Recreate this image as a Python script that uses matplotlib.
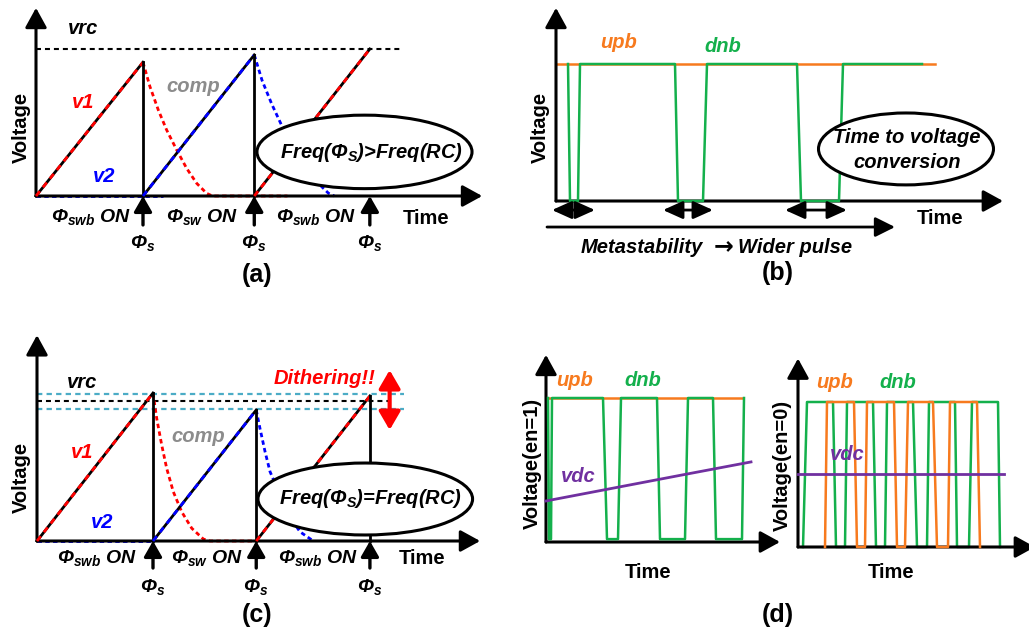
import matplotlib.pyplot as plt
from matplotlib.patches import Ellipse

plt.rcParams['font.family'] = ['Liberation Sans', 'DejaVu Sans']
plt.rcParams['mathtext.fontset'] = 'custom'
plt.rcParams['mathtext.rm'] = 'Liberation Sans:italic:bold'
plt.rcParams['mathtext.it'] = 'Liberation Sans:italic:bold'
plt.rcParams['mathtext.bf'] = 'Liberation Sans:italic:bold'

RED = '#ff0000'
BLUE = '#0000ff'
GRAY = '#8c8c8c'
ORANGE = '#f77a1e'
GREEN = '#14b04c'
PURPLE = '#7030a0'
CYAN = '#4bacc6'

# ---- (a) Freq(phi_s) > Freq(RC) ----
phi_s_a = [1.0, 2.04, 3.12]
peak_a = [0.91, 0.96, 1.0]
vrc_a = 1.0
vrc_end_a = 3.43
v1_decay_t_a = [1.0, 1.065, 1.143, 1.221, 1.315, 1.408, 1.502, 1.595, 1.65, 2.35]
v1_decay_v_a = [0.91, 0.744, 0.585, 0.449, 0.313, 0.188, 0.086, 0.018, 0.0, 0.0]
v2_decay_t_a = [2.04, 2.113, 2.204, 2.296, 2.404, 2.515, 2.624, 2.733, 2.788]
v2_decay_v_a = [0.96, 0.786, 0.624, 0.48, 0.336, 0.201, 0.096, 0.019, 0.0]
v2_base_a = [0.0, 1.19]

# ---- (b) metastability ----
upb_t_b = [0.0, 3.79]
upb_v_b = [1, 1]
dnb_t_b = [0.12, 0.14, 0.22, 0.24, 1.19, 1.22, 1.47, 1.51, 2.41, 2.45, 2.83, 2.87, 3.66]
dnb_v_b = [1, 0, 0, 1, 1, 0, 0, 1, 1, 0, 0, 1, 1]
pulse_spans_b = [(-0.04, 0.39), (1.07, 1.57), (2.29, 2.91)]

# ---- (c) Freq(phi_s) = Freq(RC) ----
phi_s_c = [1.0, 1.89, 2.87]
peak_c = [1.057, 0.936, 1.036]
vrc_c = 1.0
vrc_end_c = 3.03
dither_c = [1.048, 0.943]
dither_end_c = 3.16
v1_decay_t_c = [1.0, 1.032, 1.075, 1.118, 1.175, 1.247, 1.334, 1.434, 1.491, 1.879]
v1_decay_v_c = [1.057, 0.876, 0.686, 0.519, 0.352, 0.209, 0.091, 0.014, 0.0, 0.0]
v2_decay_t_c = [1.89, 1.922, 1.966, 2.009, 2.095, 2.198, 2.267, 2.382]
v2_decay_v_c = [0.936, 0.805, 0.638, 0.495, 0.33, 0.15, 0.066, 0.0]
v2_base_c = [0.0, 1.0]

# ---- (d) en=1 / en=0 ----
upb_t_d1 = [0.0, 1.97]
upb_v_d1 = [1, 1]
dnb_t_d1 = [0.02, 0.03, 0.05, 0.06, 0.57, 0.61, 0.72, 0.75, 1.11, 1.14, 1.39, 1.42,
            1.67, 1.70, 1.96, 1.98]
dnb_v_d1 = [1, 0.02, 0.02, 1, 1, 0.02, 0.02, 1, 1, 0.02, 0.02, 1, 1, 0.02, 0.02, 1]
vdc_t_d1 = [0.0, 1.41, 2.05]
vdc_v_d1 = [0.285, 0.472, 0.556]

dnb_t_d0 = [0.05, 0.09, 0.35, 0.38, 0.47, 0.49, 0.75, 0.78, 0.87, 0.89, 1.15, 1.19,
            1.29, 1.31, 1.57, 1.59, 1.71, 1.74, 2.00, 2.02]
dnb_v_d0 = [0, 1, 1, 0, 0, 1, 1, 0, 0, 1, 1, 0, 0, 1, 1, 0, 0, 1, 1, 0]
upb_t_d0 = [0.27, 0.29, 0.56, 0.59, 0.67, 0.69, 0.96, 0.99, 1.07, 1.10, 1.35, 1.39,
            1.50, 1.52, 1.79, 1.82]
upb_v_d0 = [0, 1, 1, 0, 0, 1, 1, 0, 0, 1, 1, 0, 0, 1, 1, 0]
vdc_t_d0 = [0.0, 2.06]
vdc_v_d0 = [0.503, 0.503]

W, H = 1029, 633
FS = 14.5
fig = plt.figure(figsize=(W / 100, H / 100), dpi=100)


def panel(x0, y0, xs, ys):
    ax = fig.add_axes([0, 0, 1, 1])
    ax.set_xlim(-x0 / xs, (W - x0) / xs)
    ax.set_ylim((y0 - H) / ys, y0 / ys)
    ax.axis('off')
    ax.patch.set_alpha(0)
    return ax


def arrow(ax, p0, p1, style='-|>', color='k', lw=2.2, hl=0.6, hw=0.33):
    ax.annotate('', xy=p1, xytext=p0, annotation_clip=False,
                arrowprops=dict(arrowstyle=f'{style},head_length={hl},head_width={hw}',
                                color=color, lw=lw, shrinkA=0, shrinkB=0,
                                mutation_scale=20))


def txt(x, y, s, size=FS, color='k', style='italic', rot=0, **kw):
    fig.text(x / W, 1 - y / H, s, ha='center', va='center', fontsize=size,
             color=color, style=style, weight='bold', rotation=rot, **kw)


def ramps(ax, ts, peaks, colors, last_vertical):
    starts = [0] + ts[:-1]
    for i, (t0, t1, p, c) in enumerate(zip(starts, ts, peaks, colors)):
        ax.plot([t0, t1], [0, p], color='k', lw=2, zorder=3)
        ax.plot([t0, t1], [0, p], color=c, lw=2, ls=(0, (2.2, 1.8)), zorder=3)
        if i < len(ts) - 1 or last_vertical:
            ax.plot([t1, t1], [p, 0], color='k', lw=2, zorder=3)


def dotted(ax, t, v, c):
    ax.plot(t, v, color=c, lw=2, ls=(0, (1.6, 1.2)), zorder=2)


# ===== panel (a) =====
ax = panel(36, 196, 107, 147)
arrow(ax, (0, 0), (0, 1.28))
arrow(ax, (0, 0), (4.17, 0))
ax.plot([0, vrc_end_a], [vrc_a, vrc_a], color='k', lw=1.5, ls=(0, (2.4, 1.9)))
dotted(ax, v2_base_a, [0, 0], BLUE)
dotted(ax, v1_decay_t_a, v1_decay_v_a, RED)
dotted(ax, v2_decay_t_a, v2_decay_v_a, BLUE)
ramps(ax, phi_s_a, peak_a, [RED, BLUE, RED], False)
for t in phi_s_a:
    arrow(ax, (t, -0.197), (t, 0), lw=2.4, hl=0.47, hw=0.27)
ax.add_patch(Ellipse((3.07, 0.30), 2.01, 0.50, fc='white', ec='k', lw=2.2, zorder=5))
txt(83, 29, 'vrc')
txt(83, 102, 'v1', color=RED)
txt(104, 177, 'v2', color=BLUE)
txt(193, 87, 'comp', color=GRAY)
txt(21, 127, 'Voltage', style='normal', rot=90)
txt(91, 217, r'$Φ_{swb}$ ON', size=14)
txt(202, 217, r'$Φ_{sw}$ ON', size=14)
txt(316, 217, r'$Φ_{swb}$ ON', size=14)
txt(426, 218, 'Time', style='normal')
for x in (143, 254, 370):
    txt(x, 243, r'$Φ_s$', size=14)
txt(257, 275, '(a)', size=18, style='normal')
txt(371, 152, r'Freq($Φ_S$)>Freq(RC)')

# ===== panel (b) =====
ax = panel(556, 201, 100, 137)
arrow(ax, (0, 0), (0, 1.41))
arrow(ax, (0, 0), (4.47, 0))
ax.plot(upb_t_b, upb_v_b, color=ORANGE, lw=1.8, zorder=2)
ax.plot(dnb_t_b, dnb_v_b, color=GREEN, lw=1.8, zorder=3)
for a, b in pulse_spans_b:
    arrow(ax, (a, -0.066), (b, -0.066), style='<|-|>', lw=2, hl=0.6, hw=0.27)
arrow(ax, (-0.09, -0.19), (3.39, -0.19), lw=2, hl=0.6, hw=0.3)
ax.add_patch(Ellipse((3.5, 0.38), 1.75, 0.525, fc='white', ec='k', lw=2.2, zorder=5))
txt(619, 43, 'upb', color=ORANGE)
txt(723, 47, 'dnb', color=GREEN)
txt(540, 127, 'Voltage', style='normal', rot=90)
txt(940, 218, 'Time', style='normal')
txt(642, 247, 'Metastability')
txt(724, 246, '→', family='DejaVu Sans', size=17, style='normal')
txt(795, 247, 'Wider pulse')
txt(778, 273, '(b)', size=18, style='normal')
txt(907, 150, 'Time to voltage\nconversion', linespacing=1.45)

# ===== panel (c) =====
ax = panel(37, 541, 116, 140)
arrow(ax, (0, 0), (0, 1.47))
arrow(ax, (0, 0), (3.82, 0))
for v in dither_c:
    ax.plot([0, dither_end_c], [v, v], color=CYAN, lw=1.6, ls=(0, (2.4, 1.9)))
ax.plot([0, vrc_end_c], [vrc_c, vrc_c], color='k', lw=1.5, ls=(0, (2.4, 1.9)))
dotted(ax, v2_base_c, [0, 0], BLUE)
dotted(ax, v1_decay_t_c, v1_decay_v_c, RED)
dotted(ax, v2_decay_t_c, v2_decay_v_c, BLUE)
ramps(ax, phi_s_c, peak_c, [RED, BLUE, RED], True)
for t in phi_s_c:
    arrow(ax, (t, -0.193), (t, 0), lw=2.4, hl=0.47, hw=0.27)
arrow(ax, (3.04, 0.793), (3.04, 1.221), style='<|-|>', color=RED, lw=3, hl=0.55, hw=0.32)
ax.add_patch(Ellipse((2.83, 0.30), 1.85, 0.514, fc='white', ec='k', lw=2.2, zorder=5))
txt(82, 383, 'vrc')
txt(82, 453, 'v1', color=RED)
txt(102, 522, 'v2', color=BLUE)
txt(198, 437, 'comp', color=GRAY)
txt(21, 477, 'Voltage', style='normal', rot=90)
txt(97, 558, r'$Φ_{swb}$ ON', size=14)
txt(207, 558, r'$Φ_{sw}$ ON', size=14)
txt(318, 558, r'$Φ_{swb}$ ON', size=14)
txt(422, 558, 'Time', style='normal')
for x in (153, 256, 370):
    txt(x, 587, r'$Φ_s$', size=14)
txt(257, 615, '(c)', size=18, style='normal')
txt(325, 379, 'Dithering!!', color=RED)
txt(370, 499, r'Freq($Φ_S$)=Freq(RC)')

# ===== panel (d) left, en=1 =====
ax = panel(546, 542, 100, 144)
arrow(ax, (0, 0), (0, 1.30))
arrow(ax, (0, 0), (2.34, 0))
ax.plot(upb_t_d1, upb_v_d1, color=ORANGE, lw=1.8, zorder=2)
ax.plot(dnb_t_d1, dnb_v_d1, color=GREEN, lw=1.8, zorder=3)
ax.plot(vdc_t_d1, vdc_v_d1, color=PURPLE, lw=2, zorder=4)
txt(575, 380, 'upb', color=ORANGE)
txt(643, 380, 'dnb', color=GREEN)
txt(578, 477, 'vdc', color=PURPLE)
txt(532, 463, 'Voltage(en=1)', style='normal', rot=90)
txt(648, 572, 'Time', style='normal')

# ===== panel (d) right, en=0 =====
ax = panel(798, 547, 100, 145)
arrow(ax, (0, 0), (0, 1.30))
arrow(ax, (0, 0), (2.37, 0))
ax.plot(dnb_t_d0, dnb_v_d0, color=GREEN, lw=1.8, zorder=2)
ax.plot(upb_t_d0, upb_v_d0, color=ORANGE, lw=1.8, zorder=3)
ax.plot(vdc_t_d0, vdc_v_d0, color=PURPLE, lw=2, zorder=4)
txt(835, 383, 'upb', color=ORANGE)
txt(898, 383, 'dnb', color=GREEN)
txt(847, 454, 'vdc', color=PURPLE)
txt(782, 465, 'Voltage(en=0)', style='normal', rot=90)
txt(891, 572, 'Time', style='normal')
txt(778, 615, '(d)', size=18, style='normal')

fig.savefig('out.png', dpi=100)
